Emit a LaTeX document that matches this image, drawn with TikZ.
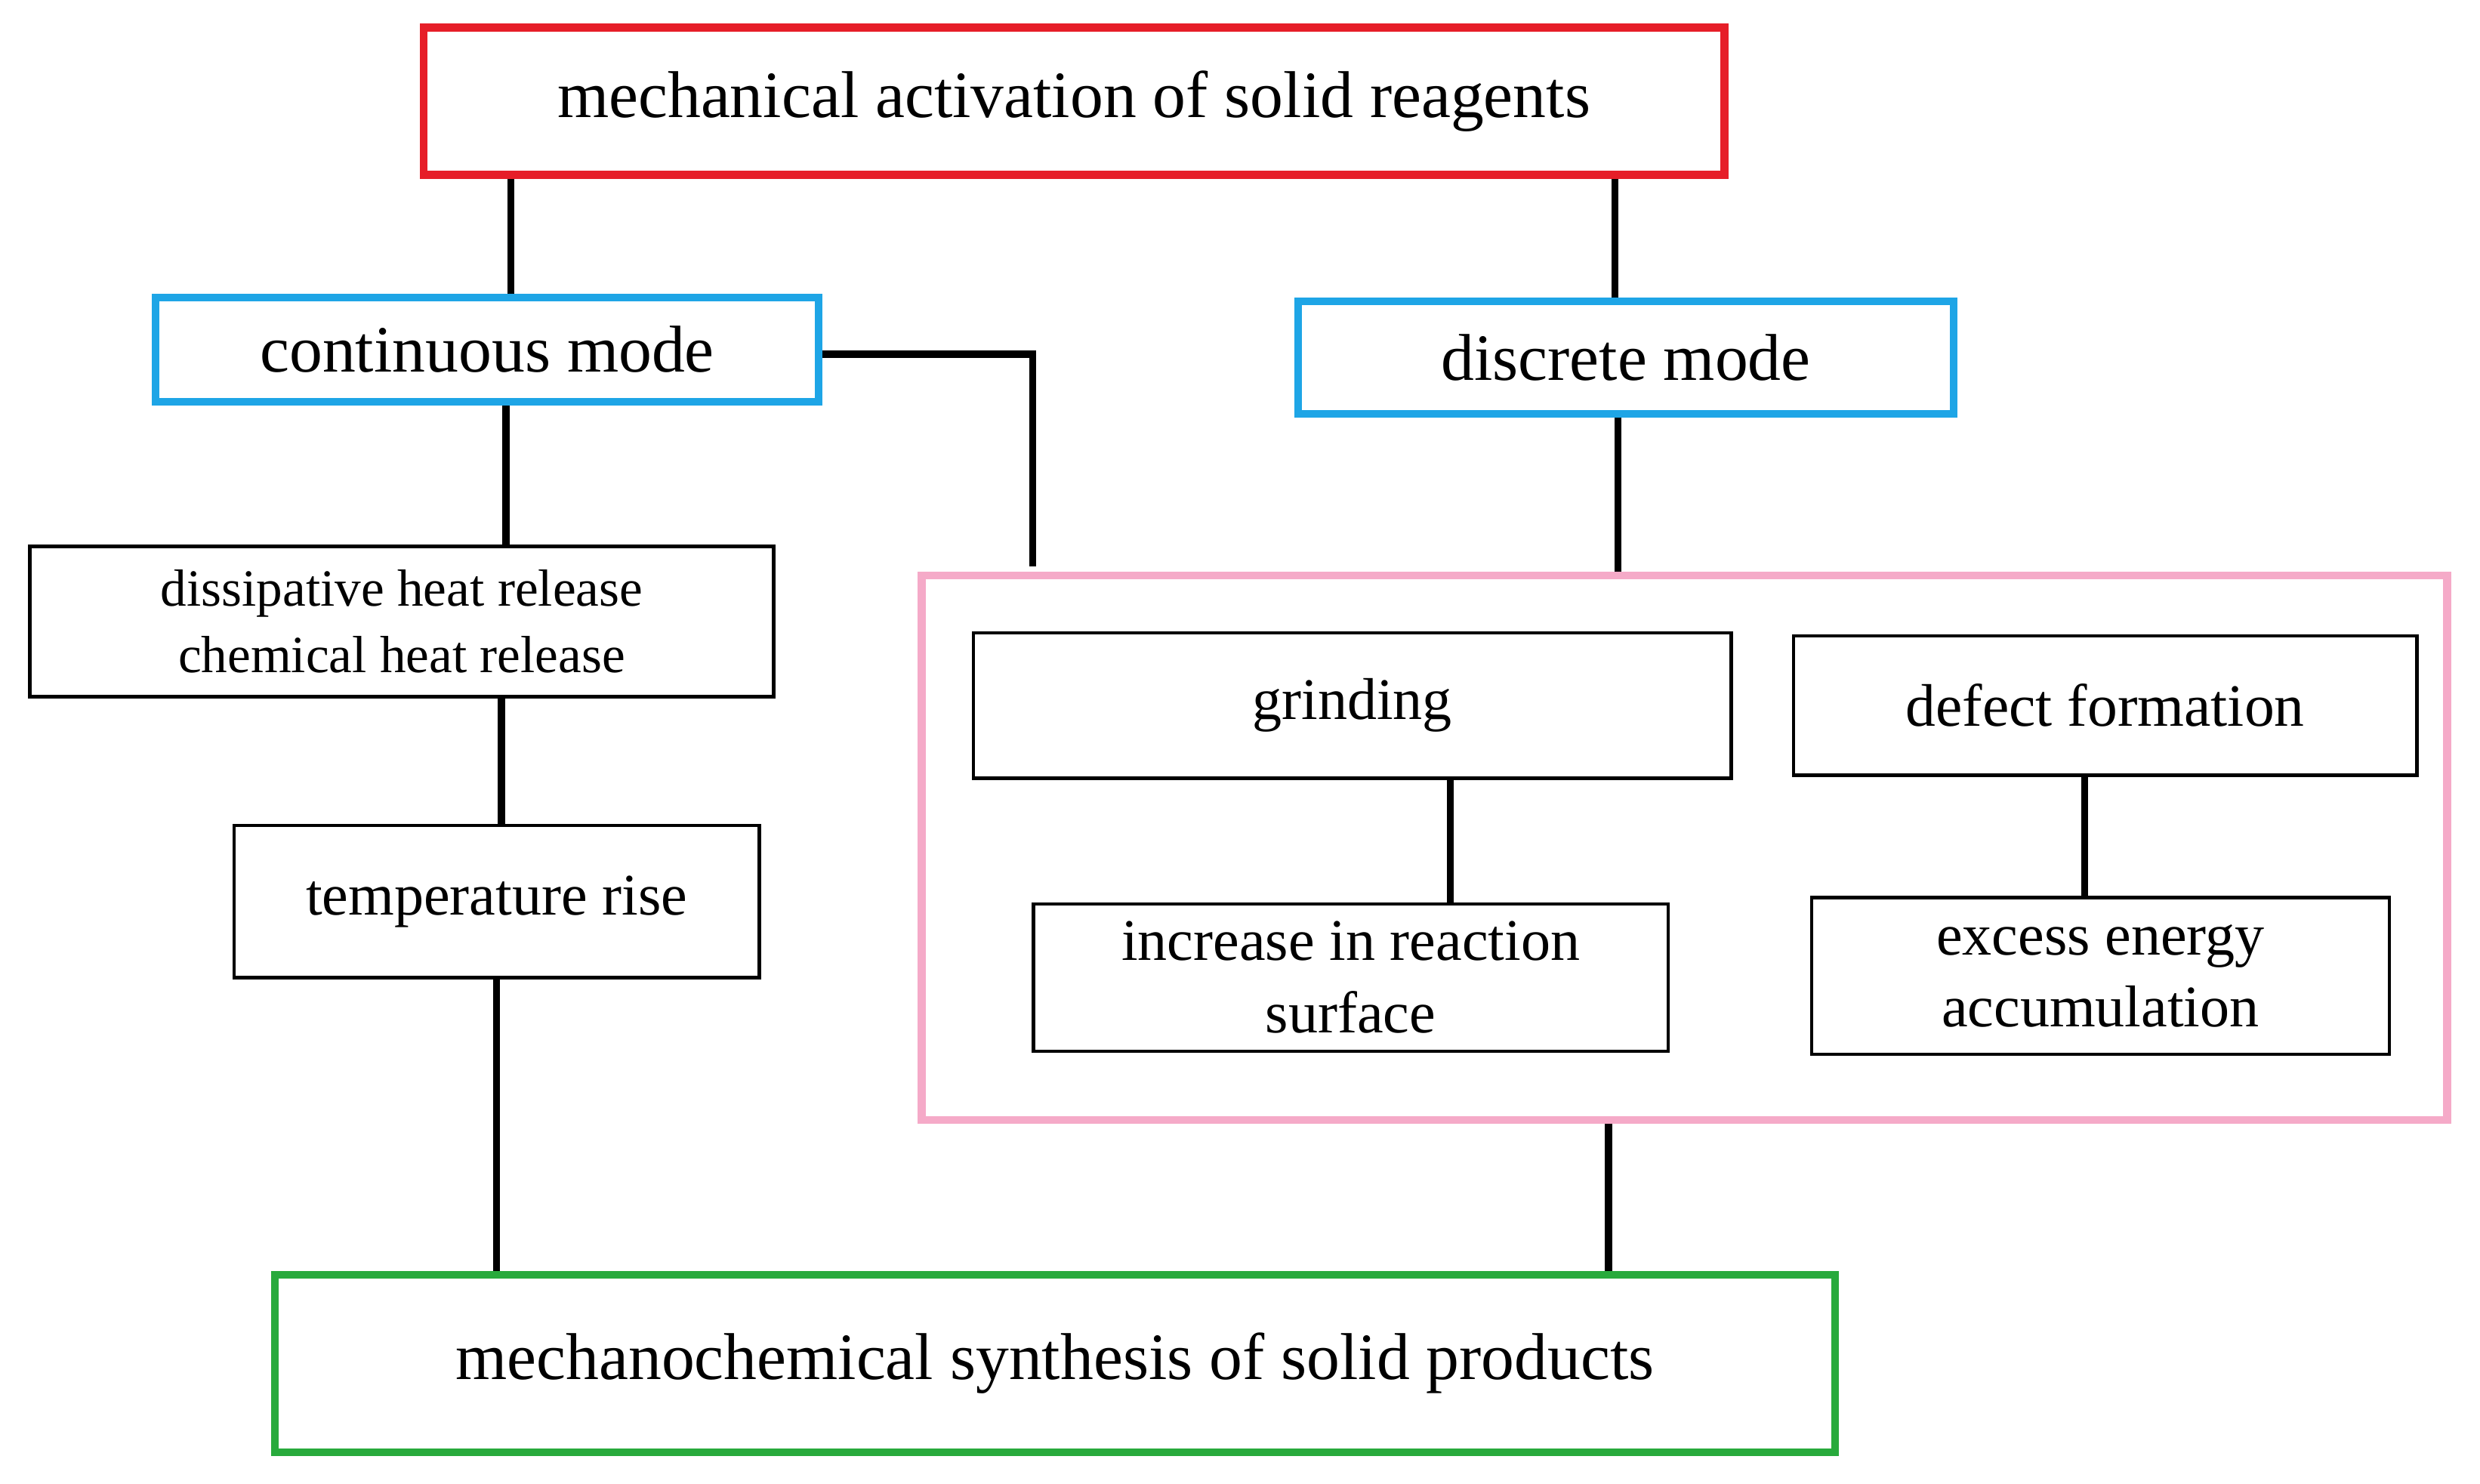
\documentclass[tikz,border=0pt]{standalone}
\usepackage{fontspec}
\setmainfont{Liberation Serif}
\definecolor{myred}{RGB}{230,30,40}
\definecolor{myblue}{RGB}{30,165,230}
\definecolor{mypink}{RGB}{245,170,200}
\definecolor{mygreen}{RGB}{40,170,60}
\begin{document}
\begin{tikzpicture}[x=0.01cm,y=-0.01cm,
  box/.style={draw,line width=0.6pt,inner sep=0pt,align=center,font=\fontsize{10.6}{13}\selectfont},
  cbox/.style={draw,line width=1.4pt,inner sep=0pt,align=center,font=\fontsize{11.9}{14}\selectfont},
  link/.style={line width=1.3pt}]
\useasboundingbox (0,0) rectangle (1568,938);
% top level
\node[cbox,draw=myred,minimum width=8.22cm,minimum height=0.93cm] (top) at (679,64) {mechanical activation of solid reagents};
\node[cbox,draw=myblue,minimum width=4.19cm,minimum height=0.66cm] (cont) at (308,221) {continuous mode};
\node[cbox,draw=myblue,minimum width=4.14cm,minimum height=0.71cm] (disc) at (1028,226) {discrete mode};
% continuous branch
\node[box,minimum width=4.70cm,minimum height=0.95cm,font=\fontsize{9.4}{12}\selectfont] (heat) at (254,393) {dissipative heat release\\chemical heat release};
\node[box,minimum width=3.32cm,minimum height=0.96cm] (temp) at (314,570) {temperature rise};
% discrete branch
\node[draw=mypink,line width=1.4pt,minimum width=9.64cm,minimum height=3.44cm] (grp) at (1065,536) {};
\node[box,minimum width=4.79cm,minimum height=0.92cm] (grind) at (855,446) {grinding};
\node[box,minimum width=3.94cm,minimum height=0.88cm,font=\fontsize{10.8}{13}\selectfont] (defect) at (1331,446) {defect formation};
\node[box,minimum width=4.01cm,minimum height=0.93cm] (incr) at (854,618) {increase in reaction\\surface};
\node[box,minimum width=3.65cm,minimum height=0.99cm] (excess) at (1328,617) {excess energy\\accumulation};
% bottom
\node[cbox,draw=mygreen,minimum width=9.86cm,minimum height=1.12cm] (bot) at (667,862) {mechanochemical synthesis of solid products};
% connectors
\coordinate (bend) at (653,224);
\coordinate (pinktop) at (653,358);
\draw[link] (top.south -| 323,0) -- (cont.north -| 323,0);
\draw[link] (top.south -| 1021,0) -- (disc.north -| 1021,0);
\draw[link] (cont.east |- bend) -- (bend) -- (pinktop);
\draw[link] (disc.south -| 1023,0) -- (grp.north -| 1023,0);
\draw[link] (cont.south -| 320,0) -- (heat.north -| 320,0);
\draw[link] (heat.south -| 317,0) -- (temp.north -| 317,0);
\draw[link] (temp.south -| 314,0) -- (bot.north -| 314,0);
\draw[link] (grind.south -| 917,0) -- (incr.north -| 917,0);
\draw[link] (defect.south -| 1318,0) -- (excess.north -| 1318,0);
\draw[link] (grp.south -| 1017,0) -- (bot.north -| 1017,0);
\end{tikzpicture}
\end{document}
